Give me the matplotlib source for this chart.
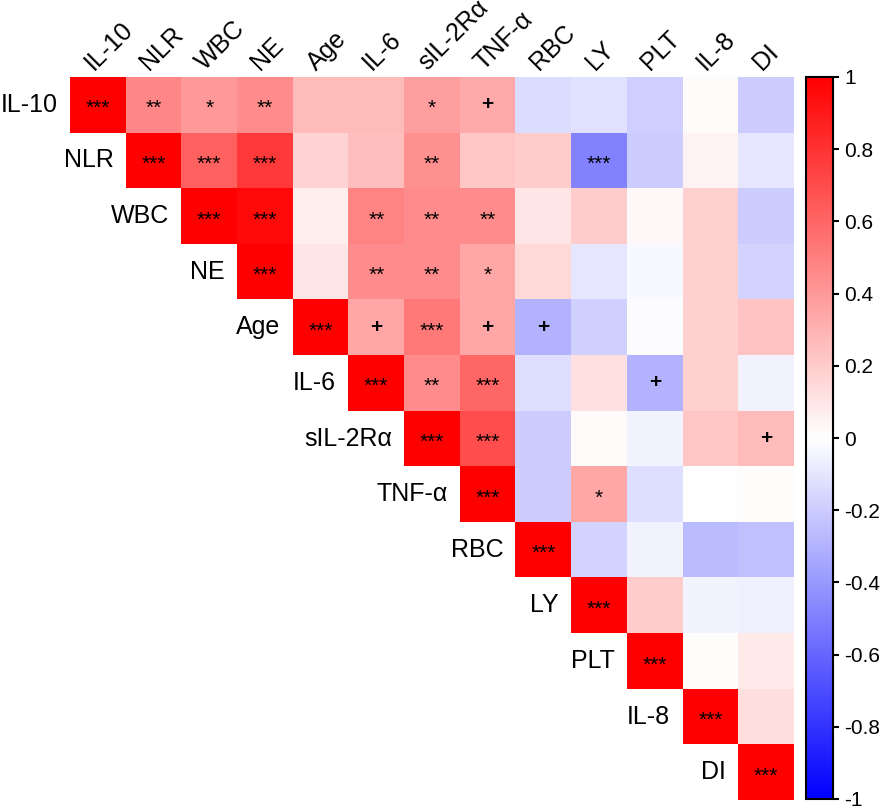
import numpy as np
import matplotlib
matplotlib.use("Agg")
import matplotlib.pyplot as plt
from matplotlib.colors import LinearSegmentedColormap

plt.rcParams['font.family'] = ['Liberation Sans', 'DejaVu Sans']
plt.rcParams['axes.unicode_minus'] = False

labels = ["IL-10", "NLR", "WBC", "NE", "Age", "IL-6", "sIL-2Rα", "TNF-α",
          "RBC", "LY", "PLT", "IL-8", "DI"]

# upper triangle of correlation matrix, row i starts at the diagonal
r_rows = [
    [1, 0.47, 0.40, 0.45, 0.27, 0.27, 0.38, 0.33, -0.14, -0.12, -0.19, 0.02, -0.20],
    [1, 0.62, 0.77, 0.17, 0.25, 0.43, 0.22, 0.20, -0.49, -0.20, 0.05, -0.10],
    [1, 0.96, 0.07, 0.48, 0.45, 0.45, 0.10, 0.20, 0.03, 0.18, -0.20],
    [1, 0.10, 0.45, 0.45, 0.35, 0.15, -0.10, -0.03, 0.18, -0.17],
    [1, 0.35, 0.52, 0.35, -0.30, -0.18, -0.01, 0.18, 0.23],
    [1, 0.45, 0.60, -0.13, 0.12, -0.30, 0.18, -0.05],
    [1, 0.70, -0.20, 0.02, -0.04, 0.22, 0.27],
    [1, -0.20, 0.35, -0.13, 0.00, 0.01],
    [1, -0.17, -0.05, -0.27, -0.25],
    [1, 0.20, -0.04, -0.06],
    [1, 0.01, 0.08],
    [1, 0.13],
    [1],
]

sig_rows = [
    ["***", "**", "*", "**", "", "", "*", "+", "", "", "", "", ""],
    ["***", "***", "***", "", "", "**", "", "", "***", "", "", ""],
    ["***", "***", "", "**", "**", "**", "", "", "", "", ""],
    ["***", "", "**", "**", "*", "", "", "", "", ""],
    ["***", "+", "***", "+", "+", "", "", "", ""],
    ["***", "**", "***", "", "", "+", "", ""],
    ["***", "***", "", "", "", "", "+"],
    ["***", "", "*", "", "", ""],
    ["***", "", "", "", ""],
    ["***", "", "", ""],
    ["***", "", ""],
    ["***", ""],
    ["***"],
]

n = len(labels)
mat = np.full((n, n), np.nan)
for i, row in enumerate(r_rows):
    mat[i, i:] = row

cmap = LinearSegmentedColormap.from_list("bwr2", [(0, 0, 1), (1, 1, 1), (1, 0, 0)])

fig = plt.figure(figsize=(8.86, 8.08), dpi=100)
ax = fig.add_axes([70 / 886, 8 / 808, 724 / 886, 723 / 808])
im = ax.imshow(np.ma.masked_invalid(mat), cmap=cmap, vmin=-1, vmax=1,
               aspect='auto', interpolation='nearest')
ax.set_xlim(-0.5, n - 0.5)
ax.set_ylim(n - 0.5, -0.5)
for s in ax.spines.values():
    s.set_visible(False)
ax.set_xticks([])
ax.set_yticks([])

for i, row in enumerate(sig_rows):
    for k, mark in enumerate(row):
        if mark:
            j = i + k
            dy = 0.07 if "*" in mark else 0.0
            ax.text(j, i + dy, mark, ha='center', va='center', fontsize=15,
                    fontweight='bold' if mark == "+" else 'normal', color='black')

# row labels next to diagonal
for i, lab in enumerate(labels):
    ax.text(i - 0.72, i, lab, ha='right', va='center', fontsize=18)

# column labels on top, rotated
for j, lab in enumerate(labels):
    ax.text(j - 0.08, -0.6, lab, ha='left', va='baseline', rotation=45,
            rotation_mode='anchor', fontsize=18)

cax = fig.add_axes([806 / 886, 9 / 808, 27 / 886, 722 / 808])
cb = fig.colorbar(im, cax=cax)
cb.set_ticks([1, 0.8, 0.6, 0.4, 0.2, 0, -0.2, -0.4, -0.6, -0.8, -1])
cb.set_ticklabels(["1", "0.8", "0.6", "0.4", "0.2", "0", "-0.2", "-0.4", "-0.6", "-0.8", "-1"])
cb.outline.set_linewidth(1.5)
cb.outline.set_edgecolor('black')
cax.tick_params(length=4, width=1.5, labelsize=15, pad=4)

fig.savefig("out.png", dpi=100)
